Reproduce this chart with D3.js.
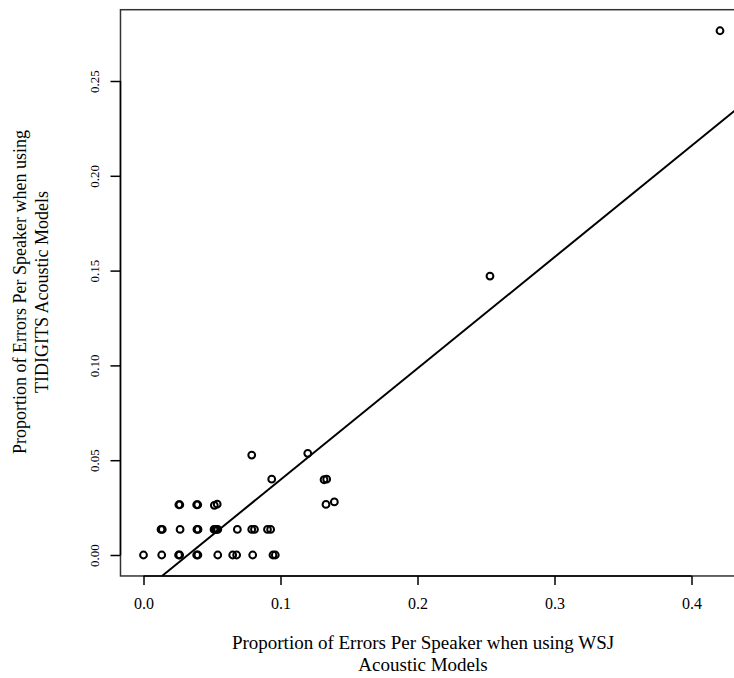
<!DOCTYPE html>
<html>
<head>
<meta charset="utf-8">
<script src="https://cdn.jsdelivr.net/npm/d3@7"></script>
<style>
  body { margin: 0; background: #fff; }
  svg { display: block; }
  text { font-family: "Liberation Serif", "Times New Roman", serif; fill: #000; }
</style>
</head>
<body>
<div id="chart"></div>
<script>
// proportion of errors per speaker, WSJ acoustic models (x)
var wsj = [
    0.0, 0.0133, 0.0256, 0.0264, 0.0388, 0.0397, 0.0542, 0.0651, 0.068, 0.0797, 0.0945, 0.0962,
    0.0128, 0.0137, 0.0267, 0.039, 0.0398, 0.0515, 0.0525, 0.0533, 0.0542, 0.0685, 0.079, 0.081, 0.0905, 0.0928,
    0.0258, 0.0265, 0.0388, 0.0396, 0.0517, 0.0538,
    0.079, 0.0936, 0.1199, 0.1318, 0.1337, 0.1332, 0.1393, 0.2529, 0.4208
];
// proportion of errors per speaker, TIDIGITS acoustic models (y)
var tidigits = [
    0, 0, 0, 0, 0, 0, 0, 0, 0, 0, 0, 0,
    0.0135, 0.0135, 0.0135, 0.0135, 0.0135, 0.0135, 0.0135, 0.0135, 0.0135, 0.0135, 0.0135, 0.0135, 0.0135, 0.0135,
    0.0265, 0.0265, 0.0265, 0.0265, 0.0262, 0.0268,
    0.0527, 0.040, 0.0536, 0.0397, 0.040, 0.0267, 0.028, 0.1471, 0.2765
];
// fitted line y = a + b x
var fitIntercept = -0.019;
var fitSlope = 0.587;

var xTicks = [0.0, 0.1, 0.2, 0.3, 0.4];
var yTicks = [0.00, 0.05, 0.10, 0.15, 0.20, 0.25];
var xTitle = ["Proportion of Errors Per Speaker when using WSJ", "Acoustic Models"];
var yTitle = ["Proportion of Errors Per Speaker when using", "TIDIGITS Acoustic Models"];

var width = 734, height = 678;

var svg = d3.select("#chart")
    .append("svg")
    .attr("width", width)
    .attr("height", height);

var xDom = [-0.0168, 0.4376], yDom = [-0.01106, 0.2876];
var x = d3.scaleLinear().domain(xDom).range([143.5 - 0.0168 * 1370, 143.5 + 0.4376 * 1370]);
var y = d3.scaleLinear().domain(yDom).range([555 + 0.01106 * 1896, 555 - 0.2876 * 1896]);

svg.append("clipPath").attr("id", "plotclip")
    .append("rect")
    .attr("x", x(xDom[0])).attr("y", y(yDom[1]))
    .attr("width", x(xDom[1]) - x(xDom[0]))
    .attr("height", y(yDom[0]) - y(yDom[1]));

// box
svg.append("rect")
    .attr("x", x(xDom[0])).attr("y", y(yDom[1]))
    .attr("width", x(xDom[1]) - x(xDom[0]))
    .attr("height", y(yDom[0]) - y(yDom[1]))
    .attr("fill", "none")
    .attr("stroke", "#333")
    .attr("stroke-width", 1.5);

// x axis
var xAxis = svg.append("g")
    .attr("transform", "translate(0," + y(yDom[0]) + ")")
    .call(d3.axisBottom(x).tickValues(xTicks).tickSize(9).tickSizeOuter(0)
        .tickFormat(d3.format(".1f")));
xAxis.select(".domain").remove();
xAxis.append("line")
    .attr("x1", x(xTicks[0])).attr("x2", x(xTicks[xTicks.length - 1]))
    .attr("stroke", "#000").attr("stroke-width", 1.5);
xAxis.selectAll(".tick line").attr("stroke", "#000").attr("stroke-width", 1.5);
xAxis.selectAll(".tick text")
    .attr("y", 22)
    .attr("font-size", 16)
    .attr("font-family", "Liberation Serif");

// y axis
var yAxis = svg.append("g")
    .attr("transform", "translate(" + x(xDom[0]) + ",0)")
    .call(d3.axisLeft(y).tickValues(yTicks).tickSize(10).tickSizeOuter(0)
        .tickFormat(d3.format(".2f")));
yAxis.select(".domain").remove();
yAxis.append("line")
    .attr("y1", y(yTicks[0])).attr("y2", y(yTicks[yTicks.length - 1]))
    .attr("stroke", "#000").attr("stroke-width", 1.5);
yAxis.selectAll(".tick line").attr("stroke", "#000").attr("stroke-width", 1.5);
yAxis.selectAll(".tick text")
    .attr("x", null).attr("dy", null)
    .attr("text-anchor", "middle")
    .attr("font-size", 13)
    .attr("font-family", "Liberation Serif")
    .attr("transform", "translate(-21,0) rotate(-90)")
    .attr("y", 0);

// fitted line
var x0 = (y.invert(y.range()[0]) - fitIntercept) / fitSlope;
svg.append("line")
    .attr("clip-path", "url(#plotclip)")
    .attr("x1", x(x0)).attr("y1", y(fitIntercept + fitSlope * x0))
    .attr("x2", x(xDom[1])).attr("y2", y(fitIntercept + fitSlope * xDom[1]))
    .attr("stroke", "#000")
    .attr("stroke-width", 2);

// points
svg.append("g").selectAll("circle")
    .data(wsj)
    .enter().append("circle")
    .attr("cx", function (d) { return x(d); })
    .attr("cy", function (d, i) { return y(tidigits[i]); })
    .attr("r", 3.4)
    .attr("fill", "none")
    .attr("stroke", "#000")
    .attr("stroke-width", 2);

// titles
var xt = svg.append("text")
    .attr("text-anchor", "middle")
    .attr("font-size", 19);
xt.selectAll("tspan").data(xTitle).enter().append("tspan")
    .attr("x", 423)
    .attr("y", function (d, i) { return 649 + i * 22; })
    .text(function (d) { return d; });

var yt = svg.append("text")
    .attr("text-anchor", "middle")
    .attr("font-size", 18)
    .attr("transform", "translate(0,292) rotate(-90)");
yt.selectAll("tspan").data(yTitle).enter().append("tspan")
    .attr("x", 0)
    .attr("y", function (d, i) { return 26 + i * 22; })
    .text(function (d) { return d; });
</script>
</body>
</html>
